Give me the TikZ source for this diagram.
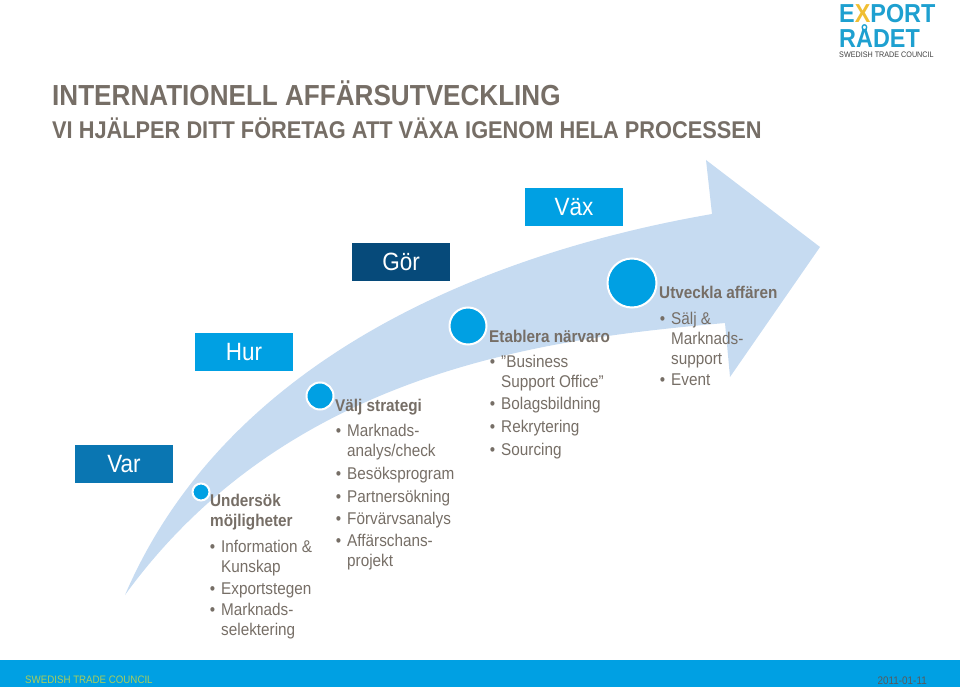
\documentclass[tikz,border=0pt]{standalone}
\usepackage{fontspec}
\setmainfont[FakeStretch=0.9]{Liberation Sans}
\usetikzlibrary{positioning}
\definecolor{SkyBar}{RGB}{0,160,227}
\definecolor{DeepBar}{RGB}{10,118,178}
\definecolor{NavyBar}{RGB}{6,74,122}
\definecolor{ArrowBlue}{RGB}{198,219,241}
\definecolor{TextGray}{RGB}{118,110,102}
\definecolor{LogoBlue}{RGB}{30,160,208}
\definecolor{LogoYellow}{RGB}{240,190,50}
\definecolor{FootGreen}{RGB}{170,205,90}
\newcommand{\itemstrut}{\rule[-4.5pt]{0pt}{20pt}}
\newcommand{\bul}[1]{\leavevmode\itemstrut\llap{\textbullet\hspace{6pt}}#1\itemstrut}
\begin{document}
\begin{tikzpicture}[
  x=1pt, y=-1pt,
  stage/.style={rectangle, minimum width=98pt, minimum height=38pt, inner sep=0pt, text=white, font=\fontsize{25}{28}\selectfont},
  dot/.style={circle, draw=white, line width=2pt, fill=SkyBar, inner sep=0pt},
  heading/.style={anchor=north west, inner sep=0pt, align=left, text=TextGray, font=\fontsize{17}{20}\selectfont\bfseries},
  item/.style={anchor=north west, inner sep=0pt, align=left, text=TextGray, font=\fontsize{17}{20}\selectfont}
]
  \useasboundingbox (0,0) rectangle (960,687);

  % Arrow
  \fill[ArrowBlue] (125,595) .. controls (228,355) and (492,252) .. (712,214)
    -- (706,160) -- (820,247) -- (730,377) -- (725,323)
    .. controls (560,338) and (292,365) .. (125,595) -- cycle;

  % Title
  \node[anchor=west, inner sep=0pt, text=TextGray, font=\fontsize{29}{32}\selectfont\bfseries] (title) at (52,93) {INTERNATIONELL AFFÄRSUTVECKLING};
  \node[anchor=west, inner sep=0pt, text=TextGray, font=\fontsize{24.2}{26}\selectfont\bfseries] (subtitle) at (52,128) {VI HJÄLPER DITT FÖRETAG ATT VÄXA IGENOM HELA PROCESSEN};

  % Stage boxes
  \node[stage, fill=DeepBar] (var) at (124,464) {Var};
  \node[stage, fill=SkyBar] (hur) at (244,352) {Hur};
  \node[stage, fill=NavyBar] (gor) at (401,262) {Gör};
  \node[stage, fill=SkyBar] (vax) at (574,207) {Väx};

  % Dots
  \node[dot, minimum size=17pt] (dotA) at (201,492) {};
  \node[dot, minimum size=27pt] (dotB) at (320,396) {};
  \node[dot, minimum size=37pt] (dotC) at (468,326) {};
  \node[dot, minimum size=49pt] (dotD) at (632,283) {};

  % Column 1
  \node[heading] (headA) at (210,494) {Undersök\\möjligheter};
  \node[item] (itemA) at (221,536.5) {\bul{Information \&\\Kunskap}};
  \node[item, below=2pt of itemA.south west, anchor=north west] (itemAb) {\bul{Exportstegen}};
  \node[item, below=0.5pt of itemAb.south west, anchor=north west] (itemAc) {\bul{Marknads-\\selektering}};

  % Column 2
  \node[heading] (headB) at (335,399) {Välj strategi};
  \node[item] (itemB) at (347,421) {\bul{Marknads-\\analys/check}};
  \node[item, below=2.5pt of itemB.south west, anchor=north west] (itemBb) {\bul{Besöksprogram}};
  \node[item, below=2pt of itemBb.south west, anchor=north west] (itemBc) {\bul{Partnersökning}};
  \node[item, below=2pt of itemBc.south west, anchor=north west] (itemBd) {\bul{Förvärvsanalys}};
  \node[item, below=1.5pt of itemBd.south west, anchor=north west] (itemBe) {\bul{Affärschans-\\projekt}};

  % Column 3
  \node[heading] (headC) at (489,330) {Etablera närvaro};
  \node[item] (itemC) at (501,352) {\bul{”Business\\Support Office”}};
  \node[item, below=1pt of itemC.south west, anchor=north west] (itemCb) {\bul{Bolagsbildning}};
  \node[item, below=2.5pt of itemCb.south west, anchor=north west] (itemCc) {\bul{Rekrytering}};
  \node[item, below=3pt of itemCc.south west, anchor=north west] (itemCd) {\bul{Sourcing}};

  % Column 4
  \node[heading] (headD) at (659,286) {Utveckla affären};
  \node[item] (itemD) at (671,309) {\bul{Sälj \&\\Marknads-\\support}};
  \node[item, below=0.5pt of itemD.south west, anchor=north west] (itemDb) {\bul{Event}};

  % Logo
  \node[anchor=west, inner sep=0pt, text=LogoBlue, font=\fontsize{26}{26}\selectfont\bfseries] (logoA) at (839,14) {E\textcolor{LogoYellow}{X}PORT};
  \node[anchor=west, inner sep=0pt, text=LogoBlue, font=\fontsize{26}{26}\selectfont\bfseries] (logoB) at (839,36) {RÅDET};
  \node[anchor=west, inner sep=0pt, text=black!75, font=\fontsize{8}{8}\selectfont] (logoC) at (839,55) {SWEDISH TRADE COUNCIL};

  % Footer
  \fill[SkyBar] (0,660) rectangle (960,687);
  \node[anchor=west, inner sep=0pt, text=FootGreen, font=\fontsize{10.8}{13}\selectfont] (footL) at (25,680) {SWEDISH TRADE COUNCIL};
  \node[anchor=east, inner sep=0pt, text=black!65, font=\fontsize{11}{13}\selectfont] (footR) at (927,681) {2011-01-11};
\end{tikzpicture}
\end{document}
